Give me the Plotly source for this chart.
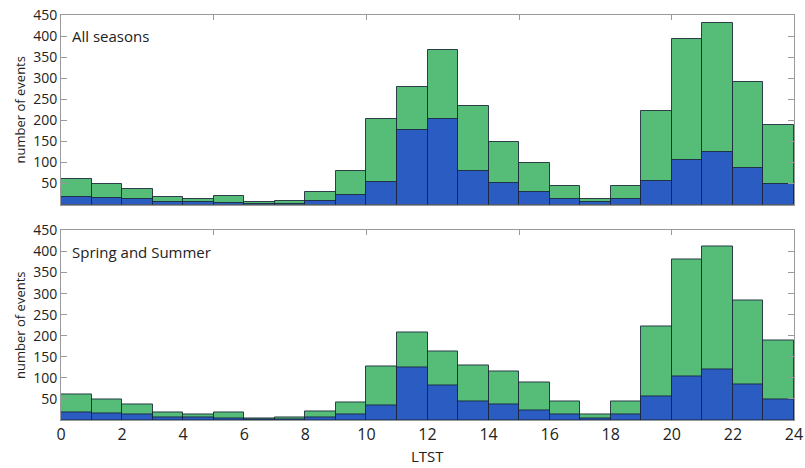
import plotly.graph_objects as go

hours = list(range(24))
all_total = [61, 48, 38, 19, 13, 20, 5, 8, 30, 79, 202, 280, 367, 235, 148, 99, 45, 14, 44, 221, 394, 432, 290, 190]
all_sub = [19, 15, 13, 6, 5, 4, 2, 2, 9, 23, 54, 177, 202, 79, 50, 29, 14, 5, 14, 57, 106, 125, 86, 48]
ss_total = [61, 48, 37, 18, 12, 19, 4, 7, 20, 41, 126, 207, 162, 130, 115, 90, 43, 13, 44, 222, 382, 411, 285, 190]
ss_sub = [19, 15, 12, 6, 5, 4, 2, 2, 7, 14, 34, 125, 81, 43, 37, 23, 13, 4, 13, 56, 103, 121, 85, 48]
panel_titles = ["All seasons", "Spring and Summer"]
x_title = "LTST"
x_ticks = list(range(0, 25, 2))
y_ticks = list(range(50, 451, 50))
top_ticks = [0, 5, 10, 15, 20]

GREEN = "#56bd79"
BLUE = "#2a5cc2"
EDGE = "rgba(25,35,55,0.85)"
AX = "#9a9a9a"
FONT = "Open Sans"

centers = [h + 0.5 for h in hours]
fig = go.Figure()
for i, (tot, sub) in enumerate([(all_total, all_sub), (ss_total, ss_sub)]):
    xa = "x" if i == 0 else "x2"
    ya = "y" if i == 0 else "y2"
    fig.add_trace(go.Bar(x=centers, y=tot, width=1, marker=dict(color=GREEN, line=dict(color=EDGE, width=1)),
                         xaxis=xa, yaxis=ya, showlegend=False))
    fig.add_trace(go.Bar(x=centers, y=sub, width=1, marker=dict(color=BLUE, line=dict(color=EDGE, width=1)),
                         xaxis=xa, yaxis=ya, showlegend=False))
    # empty traces to host top tick axes
    fig.add_trace(go.Scatter(x=[], y=[], xaxis="x3" if i == 0 else "x4", yaxis=ya, showlegend=False))

top_dom = [0.532, 1.0]
bot_dom = [0.0, 0.468]
common_x = dict(range=[0, 24], showline=True, linecolor=AX, linewidth=1, showgrid=False, zeroline=False,
                fixedrange=True, automargin=False)
common_y = dict(range=[0, 450], tickvals=y_ticks, ticks="inside", ticklen=6, tickcolor=AX, mirror="ticks",
                showline=True, linecolor=AX, linewidth=1, showgrid=False, zeroline=False, automargin=False,
                tickfont=dict(family=FONT, size=14, color="#222"),
                title=dict(text="number of events", font=dict(family=FONT, size=13, color="#222"), standoff=4))

fig.update_layout(
    width=805, height=468,
    margin=dict(l=61, r=11, t=15, b=48),
    paper_bgcolor="white", plot_bgcolor="white",
    barmode="overlay", bargap=0,
    xaxis=dict(**common_x, domain=[0, 1], anchor="y", showticklabels=False, ticks=""),
    xaxis2=dict(**common_x, domain=[0, 1], anchor="y2", tickvals=x_ticks, ticks="",
                tickfont=dict(family=FONT, size=16, color="#222")),
    xaxis3=dict(range=[0, 24], overlaying="x", anchor="y", side="top", tickvals=top_ticks, ticks="inside",
                ticklen=5, tickcolor=AX, showticklabels=False, showline=True, linecolor=AX, showgrid=False,
                zeroline=False, fixedrange=True, automargin=False),
    xaxis4=dict(range=[0, 24], overlaying="x2", anchor="y2", side="top", tickvals=top_ticks, ticks="inside",
                ticklen=5, tickcolor=AX, showticklabels=False, showline=True, linecolor=AX, showgrid=False,
                zeroline=False, fixedrange=True, automargin=False),
    yaxis=dict(**common_y, domain=top_dom, anchor="x"),
    yaxis2=dict(**common_y, domain=bot_dom, anchor="x2"),
    annotations=[
        dict(text=panel_titles[0], xref="x", yref="y", x=0.3, y=400, xanchor="left", yanchor="middle",
             showarrow=False, font=dict(family=FONT, size=15, color="#222")),
        dict(text=panel_titles[1], xref="x2", yref="y2", x=0.3, y=400, xanchor="left", yanchor="middle",
             showarrow=False, font=dict(family=FONT, size=15, color="#222")),
        dict(text=x_title, xref="x2", yref="paper", x=12, y=0, yshift=-48, xanchor="center", yanchor="bottom",
             showarrow=False, font=dict(family=FONT, size=15, color="#222")),
    ],
)

fig.write_html("out.html")
